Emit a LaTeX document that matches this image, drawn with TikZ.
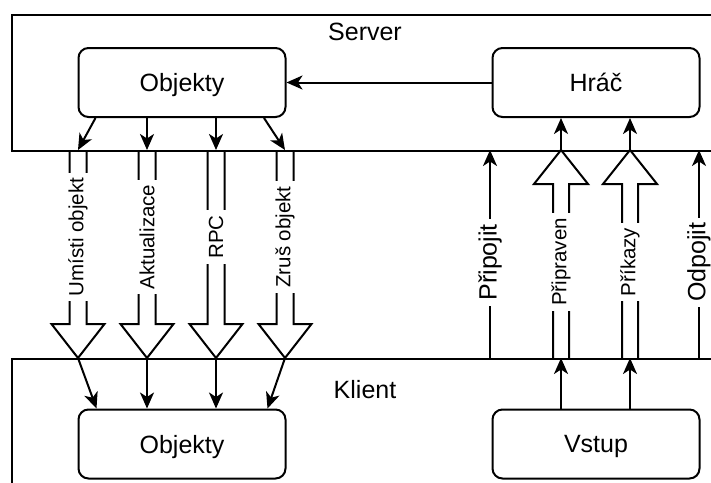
\documentclass[tikz,border=0pt]{standalone}
\usepackage{fontspec}
\setmainfont{Liberation Sans}
\usetikzlibrary{arrows.meta}
\begin{document}
\begin{tikzpicture}[x=1pt,y=-1pt,line width=2pt,
  frame/.style={draw, inner sep=0pt},
  box/.style={draw, rounded corners=10pt, minimum width=207pt, minimum height=69pt,
    text depth=0pt, font=\fontsize{25}{30}\selectfont},
  big/.style={font=\fontsize{25}{30}\selectfont},
  small/.style={font=\fontsize{20.5}{24}\selectfont},
  lbl/.style={fill=white, rotate=90, inner xsep=5pt, inner ysep=3pt},
  tip/.style={-{Stealth[length=16pt,width=14pt,inset=4.5pt]}},
]
\useasboundingbox (0,0) rectangle (711,482);
\clip (0,0) rectangle (711,482);

% the two containers, running off the right edge
\node[frame, anchor=north west, minimum width=740pt, minimum height=136pt] (server) at (11,14) {};
\node[frame, anchor=north west, minimum width=740pt, minimum height=160pt] (klient) at (11,358) {};
\node[big] (serverlbl) at (365,32) {Server};
\node[big] (klientlbl) at (365,390) {Klient};

% components
\node[box] (objS) at (182,82.5) {Objekty};
\node[box] (hrac) at (596,82.5) {Hráč};
\node[box] (objK) at (182,444) {Objekty};
\node[box] (vstup) at (596,444) {Vstup};

\draw[tip] (hrac.west) -- (objS.east);

% messages from server to client (hollow block arrows pointing down)
\foreach \cx/\nm/\txt in {78/umisti/{Umísti objekt},147/aktual/Aktualizace,216/rpc/RPC,285/zrus/{Zruš objekt}} {
  \draw (\cx-8.5,150) -- (\cx-8.5,324) -- (\cx-26.5,324) -- (\cx,358)
        -- (\cx+26.5,324) -- (\cx+8.5,324) -- (\cx+8.5,150);
  \coordinate (\nm-top) at (\cx,150);
  \coordinate (\nm-tip) at (\cx,358);
  \node[lbl,small] (\nm-lbl) at (\cx,237) {\txt};
}

\draw[tip] ([xshift=18pt]objS.south west) -- (umisti-top);
\draw[tip] (objS.south -| aktual-top) -- (aktual-top);
\draw[tip] (objS.south -| rpc-top) -- (rpc-top);
\draw[tip] ([xshift=-22.5pt]objS.south east) -- (zrus-top);

\draw[tip] (umisti-tip) -- ([xshift=19pt]objK.north west);
\draw[tip] (aktual-tip) -- (aktual-tip |- objK.north);
\draw[tip] (rpc-tip) -- (rpc-tip |- objK.north);
\draw[tip] (zrus-tip) -- ([xshift=-19pt]objK.north east);

% messages from client to server (hollow block arrows pointing up)
\foreach \cx/\nm/\txt in {561/pripr/Připraven,630/prikazy/Příkazy} {
  \draw (\cx-8,358) -- (\cx-8,184) -- (\cx-27,184) -- (\cx,150)
        -- (\cx+27,184) -- (\cx+8,184) -- (\cx+8,358);
  \coordinate (\nm-top) at (\cx,150);
  \coordinate (\nm-base) at (\cx,358);
  \node[lbl,small] (\nm-lbl) at (\cx,262) {\txt};
}

\draw[tip] (pripr-top) -- (pripr-top |- hrac.south);
\draw[tip] (prikazy-top) -- (prikazy-top |- hrac.south);
\draw[tip] (vstup.north -| pripr-base) -- (pripr-base);
\draw[tip] (vstup.north -| prikazy-base) -- (prikazy-base);

% connection control messages
\coordinate (pripojit-from) at (490,358);
\coordinate (pripojit-to) at (490,150);
\coordinate (odpojit-from) at (699,358);
\coordinate (odpojit-to) at (699,150);
\draw[tip] (pripojit-from) -- node[lbl,big,pos=0.46] (pripojit-lbl) {Připojit} (pripojit-to);
\draw[tip] (odpojit-from) -- node[lbl,big,pos=0.46] (odpojit-lbl) {Odpojit} (odpojit-to);
\end{tikzpicture}
\end{document}
